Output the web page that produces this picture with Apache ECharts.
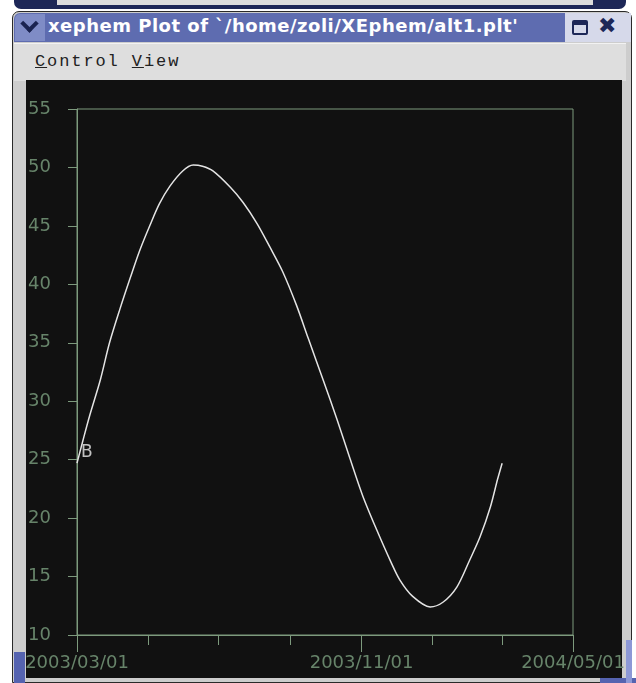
<!DOCTYPE html>
<html><head><meta charset="utf-8">
<script src="https://cdn.jsdelivr.net/npm/echarts@6/dist/echarts.min.js"></script>
<style>
html,body{margin:0;padding:0;width:636px;height:683px;overflow:hidden;background:#ffffff;position:relative}
.a{position:absolute;box-sizing:border-box}
#chart{position:absolute;left:0;top:0;width:636px;height:683px;z-index:10}
</style></head><body>
<!-- window above (partially visible) -->
<div class="a" style="left:14px;top:0;width:612px;height:9px;background:#1d2757;border-radius:0 0 7px 7px"></div>
<div class="a" style="left:57px;top:0;width:536px;height:5px;background:#dcdcdc"></div>
<!-- window frame -->
<div class="a" style="left:12px;top:11px;width:620px;height:672px;background:#cdcdcd;border:1px solid #2a2a2a;border-radius:7px 7px 0 0"></div>
<!-- title bar -->
<div class="a" style="left:14px;top:13px;width:551px;height:29px;background:#5e6cb0;border-radius:6px 0 0 0"></div>
<div class="a" style="left:15px;top:14px;width:30px;height:27px;background:#7f8cc6;border-radius:5px 0 0 0"></div>
<div class="a" style="left:23px;top:17px;width:13px;height:13px;border-right:4px solid #1a2350;border-bottom:4px solid #1a2350;transform:rotate(45deg)"></div>
<div class="a" style="left:48px;top:15px;font:bold 18px 'DejaVu Sans';color:#ffffff;white-space:nowrap;letter-spacing:0.5px">xephem Plot of `/home/zoli/XEphem/alt1.plt'</div>
<div class="a" style="left:565px;top:13px;width:66px;height:29px;background:#d6d9ea"></div>
<div class="a" style="left:572px;top:20px;width:16px;height:15px;border:2px solid #1d2757;border-top-width:5px;border-radius:2px"></div>
<div class="a" style="left:598px;top:13px;font:bold 22px 'DejaVu Sans';color:#1d2757">&#x2716;</div>
<!-- menu bar -->
<div class="a" style="left:14px;top:43px;width:612px;height:38px;background:#dedede;border-top:1px solid #f2f2f2"></div>
<div class="a" style="left:35px;top:52px;font:17px 'Liberation Mono';letter-spacing:1.9px;color:#222;white-space:nowrap"><span style="text-decoration:underline">C</span>ontrol <span style="text-decoration:underline">V</span>iew</div>
<!-- plot panel -->
<div class="a" style="left:26px;top:80px;width:596px;height:598px;background:#111111"></div>
<div class="a" style="left:14px;top:652px;width:11px;height:31px;background:#5563b0"></div>
<div class="a" style="left:600px;top:678px;width:36px;height:5px;background:#5563b0"></div>
<div class="a" style="left:626px;top:640px;width:6px;height:43px;background:#8d98d6"></div>
<div id="chart"></div>
<script>
// ---- data ----
const dates = ['2003-03-01','2003-03-06','2003-03-12','2003-03-21','2003-03-29','2003-04-07','2003-04-16','2003-04-24',
  '2003-05-03','2003-05-11','2003-05-20','2003-05-31','2003-06-09','2003-06-17','2003-06-26','2003-07-11','2003-07-22',
  '2003-08-03','2003-08-14','2003-08-25','2003-09-06','2003-09-16','2003-09-29','2003-10-11','2003-10-22','2003-11-02',
  '2003-11-14','2003-11-26','2003-12-04','2003-12-15','2003-12-30','2004-01-10','2004-01-22','2004-02-02','2004-02-11',
  '2004-02-20','2004-02-26','2004-03-01'];
const altitudes = [24.7,26.6,28.8,31.8,35.0,37.9,40.6,42.9,
  45.1,46.9,48.4,49.7,50.2,50.1,49.7,48.3,47.0,
  45.2,43.2,41.1,38.2,35.4,31.8,28.4,25.1,21.9,
  19.0,16.3,14.7,13.3,12.4,12.8,14.1,16.4,18.4,
  21.0,23.3,24.7];
const xTickDates = ['2003-03-01','2003-05-01','2003-07-01','2003-09-01','2003-11-01','2004-01-01','2004-03-01','2004-05-01'];
const xLabelDates = ['2003-03-01','2003-11-01','2004-05-01'];
const xLabelTexts = ['2003/03/01','2003/11/01','2004/05/01'];
const yMin = 10, yMax = 55, yStep = 5;
const markerLabel = 'B';

const ts = s => new Date(s + 'T00:00:00').getTime();
const lineCol = '#7d9a7d';
const labCol = '#67846a';
const font = 'DejaVu Sans';
const xMin = ts(xTickDates[0]), xMax = ts(xTickDates[xTickDates.length - 1]);
const labelTs = xLabelDates.map(ts);

const chart = echarts.init(document.getElementById('chart'), null, {renderer: 'canvas'});
chart.setOption({
  animation: false,
  backgroundColor: 'transparent',
  grid: {left: 77, top: 109, width: 496, height: 526, show: true, borderColor: lineCol, borderWidth: 1, backgroundColor: 'transparent'},
  xAxis: [{
    type: 'value', min: xMin, max: xMax, position: 'bottom', scale: true,
    axisLine: {show: true, onZero: false, lineStyle: {color: lineCol, width: 1}},
    axisTick: {show: true, length: 10, lineStyle: {color: lineCol}, customValues: xTickDates.map(ts)},
    axisLabel: {show: false},
    splitLine: {show: false}
  }, {
    type: 'value', min: xMin, max: xMax, position: 'bottom', gridIndex: 0, scale: true,
    axisLine: {show: false, onZero: false},
    axisTick: {show: true, length: 17, lineStyle: {color: lineCol}, customValues: labelTs},
    axisLabel: {show: true, customValues: labelTs, margin: 19, color: labCol, fontFamily: font, fontSize: 18,
      formatter: v => { const i = labelTs.indexOf(v); return i >= 0 ? xLabelTexts[i] : ''; }},
    splitLine: {show: false}
  }],
  yAxis: {
    type: 'value', min: yMin, max: yMax, interval: yStep,
    axisLine: {show: true, lineStyle: {color: lineCol, width: 1}},
    axisTick: {show: true, length: 9, lineStyle: {color: lineCol}},
    axisLabel: {align: 'left', margin: 49, color: labCol, fontFamily: font, fontSize: 18},
    splitLine: {show: false}
  },
  series: [{
    type: 'line', xAxisIndex: 0,
    data: dates.map((d, i) => [ts(d), altitudes[i]]),
    smooth: 0.3, showSymbol: false, symbol: 'none',
    lineStyle: {color: '#e4e4e4', width: 1.5}
  }, {
    type: 'scatter', xAxisIndex: 0,
    data: [[ts(dates[0]), altitudes[0]]],
    symbolSize: 2, itemStyle: {color: 'transparent'},
    label: {show: true, formatter: markerLabel, position: 'right', distance: 3, offset: [0, -11],
      color: '#eeeeee', fontFamily: font, fontSize: 17}
  }]
});
</script>
</body></html>
